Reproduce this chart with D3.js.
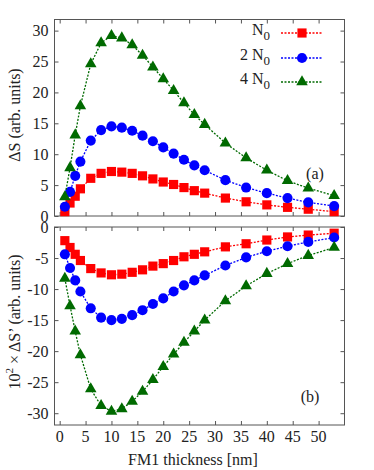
<!DOCTYPE html>
<html lang="en">
  <head>
    <meta charset="UTF-8" />
    <title>FM1 thickness</title>
    <style>
      body { margin: 0; background: #fff; }
    </style>
  </head>
  <body>
    <div id="chart"></div>
    <script src="https://cdn.jsdelivr.net/npm/d3@7"></script>
    <script>

      // thickness values (nm)
      var thickness = [1, 2, 3, 4, 6, 8, 10, 12, 14, 16, 18, 20, 22, 24, 26, 28, 32, 36, 40, 44, 48, 53];

      // panel (a): Delta S
      var dsN0  = [0.7, 2.1, 3.2, 4.4, 6.1, 6.9, 7.2, 7.1, 6.9, 6.5, 6.0, 5.5, 5.1, 4.6, 4.1, 3.7, 2.9, 2.3, 1.8, 1.4, 1.1, 0.7];
      var ds2N0 = [1.5, 3.9, 6.5, 8.8, 12.2, 13.9, 14.5, 14.3, 13.8, 13.0, 12.1, 11.1, 10.1, 9.1, 8.2, 7.4, 5.8, 4.6, 3.7, 2.9, 2.2, 1.6];
      var ds4N0 = [3.1, 7.8, 13.1, 17.8, 24.6, 28.0, 29.2, 28.8, 27.7, 26.0, 24.1, 22.2, 20.3, 18.3, 16.4, 14.8, 11.8, 9.4, 7.4, 5.7, 4.5, 3.3];

      // panel (b): 10^2 x Delta S'
      var dspN0  = [-2.2, -3.3, -4.4, -5.4, -6.7, -7.4, -7.7, -7.6, -7.3, -6.9, -6.3, -5.9, -5.4, -4.8, -4.4, -4.0, -3.2, -2.7, -2.1, -1.6, -1.3, -1.0];
      var dsp2N0 = [-4.4, -6.6, -8.6, -10.4, -13.1, -14.6, -15.0, -14.8, -14.2, -13.4, -12.4, -11.5, -10.4, -9.4, -8.6, -7.8, -6.2, -4.9, -3.9, -3.1, -2.4, -1.7];
      var dsp4N0 = [-8.3, -12.7, -16.8, -20.6, -26.1, -28.8, -29.7, -29.3, -28.1, -26.5, -24.6, -22.5, -20.5, -18.6, -16.8, -15.0, -11.9, -9.5, -7.5, -5.9, -4.6, -3.3];

      var seriesNames = ["N0", "2 N0", "4 N0"];
      var xTicks = [0, 5, 10, 15, 20, 25, 30, 35, 40, 45, 50];
      var yTicksA = [0, 5, 10, 15, 20, 25, 30];
      var yTicksB = [0, -5, -10, -15, -20, -25, -30];

      var colors = ["#ff0000", "#0000ff", "#006a00"];
      var shapes = [d3.symbolSquare, d3.symbolCircle, d3.symbolTriangle];
      var symSize = [84, 80, 58];
      var font = "'Liberation Serif', 'Times New Roman', 'DejaVu Serif', serif";

      var w = 374, h = 470;
      var left = 54.5, right = 344.5;

      var svg = d3.select("#chart").append("svg")
                  .attr("width", w)
                  .attr("height", h)
                  .attr("font-family", font)
                  .style("font-family", font);

      var xScale = d3.scaleLinear()
                     .domain([-1, 55])
                     .range([left, right]);

      var yA = d3.scaleLinear().domain([0, 31.8]).range([216, 19.5]);
      var yB = d3.scaleLinear().domain([-31.9, 0]).range([425, 227]);

      function drawPanel(yScale, yTicks, data, tag, tagPos) {
        var top = yScale.range()[1], bottom = yScale.range()[0];
        var g = svg.append("g");

        // frame
        g.append("rect")
         .attr("x", left).attr("y", top)
         .attr("width", right - left).attr("height", bottom - top)
         .attr("fill", "none").attr("stroke", "#555").attr("stroke-width", 1);

        // inward ticks on all four sides
        g.append("g").attr("transform", "translate(0," + bottom + ")")
         .call(d3.axisTop(xScale).tickValues(xTicks).tickSize(4).tickFormat(""))
         .call(function(s) { s.select(".domain").remove(); });
        g.append("g").attr("transform", "translate(0," + top + ")")
         .call(d3.axisBottom(xScale).tickValues(xTicks).tickSize(4).tickFormat(""))
         .call(function(s) { s.select(".domain").remove(); });
        g.append("g").attr("transform", "translate(" + left + ",0)")
         .call(d3.axisRight(yScale).tickValues(yTicks).tickSize(4).tickFormat(""))
         .call(function(s) { s.select(".domain").remove(); });
        g.append("g").attr("transform", "translate(" + right + ",0)")
         .call(d3.axisLeft(yScale).tickValues(yTicks).tickSize(4).tickFormat(""))
         .call(function(s) { s.select(".domain").remove(); });
        g.selectAll(".tick line").attr("stroke", "#555");

        // y tick labels
        g.selectAll(".ylab")
         .data(yTicks)
         .enter()
         .append("text")
         .attr("x", left - 6)
         .attr("y", function(d) { return yScale(d); })
         .attr("dy", "0.35em")
         .attr("text-anchor", "end")
         .attr("font-size", 16)
         .attr("fill", "#222")
         .text(function(d) { return d; });

        data.forEach(function(vals, i) {
          var pts = thickness.map(function(t, j) { return [t, vals[j]]; });
          var line = d3.line()
                       .x(function(d) { return xScale(d[0]); })
                       .y(function(d) { return yScale(d[1]); });
          g.append("path")
           .attr("d", line(pts))
           .attr("fill", "none")
           .attr("stroke", colors[i])
           .attr("stroke-width", 1.3)
           .attr("stroke-dasharray", "2,1.5");
          g.selectAll(".pt" + i)
           .data(pts)
           .enter()
           .append("path")
           .attr("d", d3.symbol().type(shapes[i]).size(symSize[i]))
           .attr("transform", function(d) { return "translate(" + xScale(d[0]) + "," + yScale(d[1]) + ")"; })
           .attr("fill", colors[i]);
        });

        g.append("text")
         .attr("x", tagPos[0]).attr("y", tagPos[1])
         .attr("text-anchor", "middle")
         .attr("dy", "0.35em")
         .attr("font-size", 16)
         .attr("fill", "#222")
         .text(tag);
      }

      drawPanel(yA, yTicksA, [dsN0, ds2N0, ds4N0], "(a)", [315, 173]);
      drawPanel(yB, yTicksB, [dspN0, dsp2N0, dsp4N0], "(b)", [310, 396]);

      // x tick labels (bottom panel only)
      svg.selectAll(".xlab")
         .data(xTicks)
         .enter()
         .append("text")
         .attr("x", function(d) { return xScale(d); })
         .attr("y", 442)
         .attr("text-anchor", "middle")
         .attr("font-size", 16)
         .attr("fill", "#222")
         .text(function(d) { return d; });

      svg.append("text")
         .attr("x", 193).attr("y", 465)
         .attr("text-anchor", "middle")
         .attr("font-size", 16)
         .attr("fill", "#222")
         .text("FM1 thickness [nm]");

      // y axis titles
      svg.append("text")
         .attr("transform", "translate(20,115)rotate(-90)")
         .attr("text-anchor", "middle")
         .attr("font-size", 16)
         .attr("fill", "#222")
         .text("\u0394S (arb. units)");

      var tb = svg.append("text")
         .attr("transform", "translate(20,322)rotate(-90)")
         .attr("text-anchor", "middle")
         .attr("font-size", 16)
         .attr("fill", "#222");
      tb.append("tspan").text("10");
      tb.append("tspan").attr("dy", -7).attr("font-size", 11).text("2");
      tb.append("tspan").attr("dy", 7).text(" \u00d7 \u0394S\u2019 (arb. units)");

      // legend
      var legY = [33, 58, 82];
      seriesNames.forEach(function(name, i) {
        var t = svg.append("text")
           .attr("x", 270).attr("y", legY[i])
           .attr("dy", "0.1em")
           .attr("text-anchor", "end")
           .attr("font-size", 16)
           .attr("fill", "#222");
        t.append("tspan").text(name.replace("N0", "N"));
        t.append("tspan").attr("dy", 5).attr("font-size", 13).text("0");
        svg.append("line")
           .attr("x1", 281).attr("x2", 323)
           .attr("y1", legY[i]).attr("y2", legY[i])
           .attr("stroke", colors[i])
           .attr("stroke-width", 1.3)
           .attr("stroke-dasharray", "2,1.5");
        svg.append("path")
           .attr("d", d3.symbol().type(shapes[i]).size(symSize[i]))
           .attr("transform", "translate(302," + legY[i] + ")")
           .attr("fill", colors[i]);
      });

    </script>
  </body>
</html>
